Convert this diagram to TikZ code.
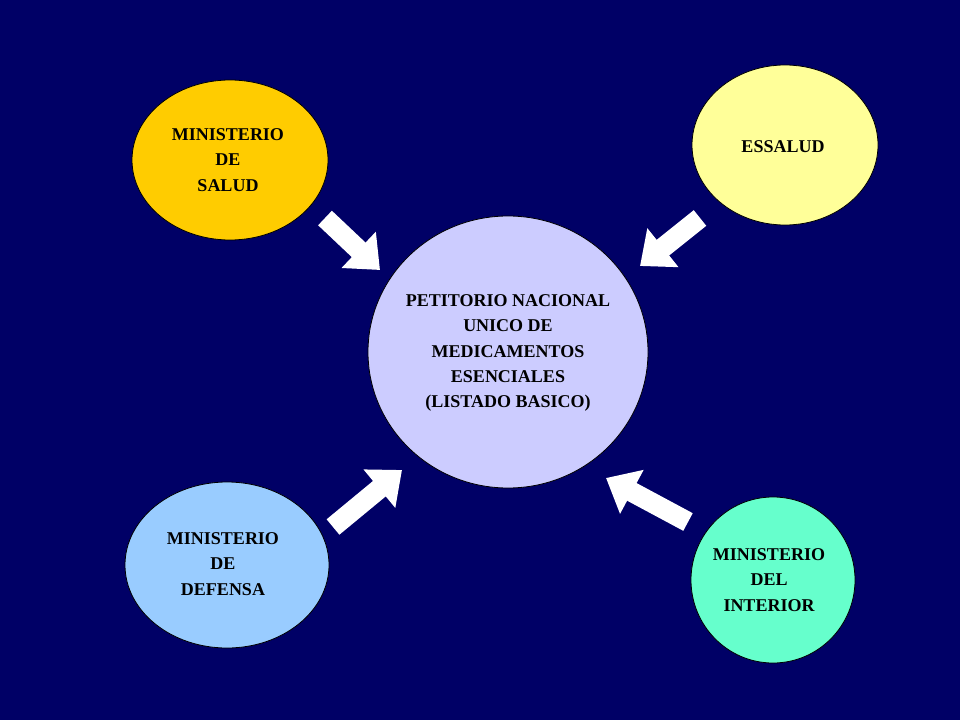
\documentclass[tikz,border=0pt]{standalone}
\usepackage{fontspec}
\setmainfont{Liberation Serif}
\usetikzlibrary{arrows.meta}
\definecolor{bg}{HTML}{000066}
\begin{document}
\begin{tikzpicture}[x=0.75pt,y=-0.75pt,
  blob/.style={draw=black,line width=0.6pt},
  lbl/.style={align=center,font=\bfseries\fontsize{13.5}{19}\selectfont,text=black},
  bigarrow/.style={white,line width=15pt,-{Triangle[length=22pt,width=36pt]}}]
\fill[bg] (0,0) rectangle (960,720);
\useasboundingbox (0,0) rectangle (960,720);
\filldraw[blob,fill={rgb,255:red,255;green,204;blue,0}] (230,160) ellipse [x radius=98,y radius=80];
\filldraw[blob,fill={rgb,255:red,255;green,255;blue,153}] (785,145) ellipse [x radius=93,y radius=80];
\filldraw[blob,fill={rgb,255:red,204;green,204;blue,255}] (508,352) ellipse [x radius=140,y radius=136];
\filldraw[blob,fill={rgb,255:red,153;green,204;blue,255}] (227,565) ellipse [x radius=102,y radius=83];
\filldraw[blob,fill={rgb,255:red,102;green,255;blue,204}] (773,580) ellipse [x radius=82,y radius=83];
\node[lbl] (salud) at (228,160) {MINISTERIO\\DE\\SALUD};
\node[lbl] (essalud) at (783,147) {ESSALUD};
\node[lbl] (pnume) at (508,353) {PETITORIO NACIONAL\\UNICO DE\\MEDICAMENTOS\\ESENCIALES\\(LISTADO BASICO)};
\node[lbl] (defensa) at (223,564) {MINISTERIO\\DE\\DEFENSA};
\node[lbl] (interior) at (769,580) {MINISTERIO\\DEL\\INTERIOR};
\coordinate (a1s) at (325,218); \coordinate (a1e) at (380,270);
\coordinate (a2s) at (700,218); \coordinate (a2e) at (640,266);
\coordinate (a3s) at (333,527); \coordinate (a3e) at (402,470);
\coordinate (a4s) at (688,522); \coordinate (a4e) at (606,478);
\draw[bigarrow] (a1s) -- (a1e);
\draw[bigarrow] (a2s) -- (a2e);
\draw[bigarrow] (a3s) -- (a3e);
\draw[bigarrow] (a4s) -- (a4e);
\end{tikzpicture}
\end{document}
